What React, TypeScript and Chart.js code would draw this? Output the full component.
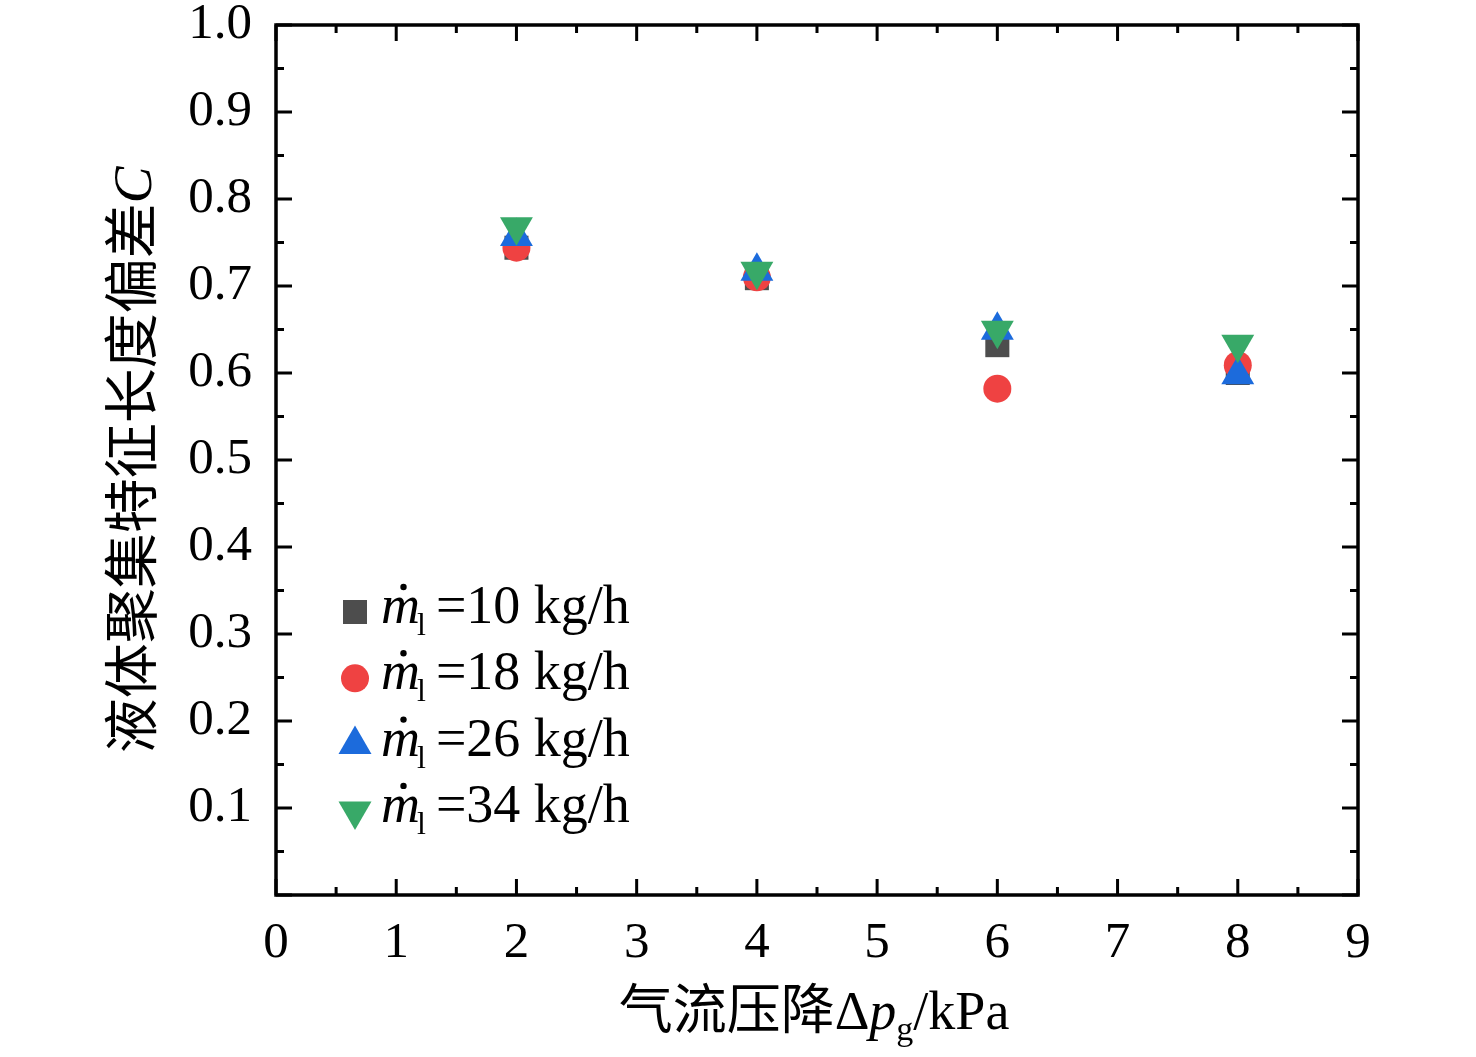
import { useEffect, useRef } from 'react'
import { Chart, registerables } from 'chart.js'
import type { Plugin } from 'chart.js'

Chart.register(...registerables)

// pressure drop Δp_g (kPa) and deviation C for each liquid flow rate
const pressureDrop = [2, 4, 6, 8]
const flow10 = [0.744, 0.709, 0.632, 0.6]
const flow18 = [0.744, 0.71, 0.582, 0.609]
const flow26 = [0.757, 0.717, 0.649, 0.598]
const flow34 = [0.768, 0.717, 0.649, 0.633]
const flowRates = ['10', '18', '26', '34']
const colors = ['#4d4d4d', '#ef4242', '#1c6bdc', '#38a968']

const SERIF = '"Liberation Serif", "Times New Roman", serif'
const CJK = '"Noto Sans CJK SC", sans-serif'

function drawSymbol(ctx: CanvasRenderingContext2D, kind: number, x: number, y: number) {
  ctx.fillStyle = colors[kind]
  ctx.beginPath()
  if (kind === 0) {
    ctx.rect(x - 12, y - 12, 24, 24)
  } else if (kind === 1) {
    ctx.arc(x, y, 14, 0, Math.PI * 2)
  } else if (kind === 2) {
    ctx.moveTo(x, y - 19)
    ctx.lineTo(x + 16.5, y + 9.5)
    ctx.lineTo(x - 16.5, y + 9.5)
  } else {
    ctx.moveTo(x, y + 19)
    ctx.lineTo(x + 16.5, y - 9.5)
    ctx.lineTo(x - 16.5, y - 9.5)
  }
  ctx.closePath()
  ctx.fill()
}

const framePlugin: Plugin = {
  id: 'frame',
  afterDraw(chart) {
    const { ctx, chartArea: a } = chart
    const xs = chart.scales.x
    const ys = chart.scales.y
    ctx.save()
    ctx.strokeStyle = '#000'
    ctx.lineWidth = 3.5
    ctx.strokeRect(a.left, a.top, a.right - a.left, a.bottom - a.top)
    ctx.lineWidth = 3
    ctx.beginPath()
    for (let i = 0; i <= 18; i++) {
      const px = xs.getPixelForValue(i / 2)
      const len = i % 2 === 0 ? 16 : 8
      ctx.moveTo(px, a.bottom)
      ctx.lineTo(px, a.bottom - len)
      ctx.moveTo(px, a.top)
      ctx.lineTo(px, a.top + len)
    }
    for (let i = 0; i <= 20; i++) {
      const py = ys.getPixelForValue(i / 20)
      const len = i % 2 === 0 ? 16 : 8
      ctx.moveTo(a.left, py)
      ctx.lineTo(a.left + len, py)
      ctx.moveTo(a.right, py)
      ctx.lineTo(a.right - len, py)
    }
    ctx.stroke()

    // x axis title: 气流压降Δp_g/kPa
    ctx.fillStyle = '#000'
    ctx.textBaseline = 'alphabetic'
    const parts: [string, string, number][] = [
      ['气流压降', `54px ${CJK}`, 0],
      ['Δ', `54px ${SERIF}`, 0],
      ['p', `italic 54px ${SERIF}`, 0],
      ['g', `34px ${SERIF}`, 11],
      ['/kPa', `54px ${SERIF}`, 0]
    ]
    let total = 0
    for (const [t, f] of parts) {
      ctx.font = f
      total += ctx.measureText(t).width
    }
    let cx = (a.left + a.right) / 2 - total / 2 - 3
    for (const [t, f, dy] of parts) {
      ctx.font = f
      ctx.fillText(t, cx, 1029 + dy)
      cx += ctx.measureText(t).width
    }

    // y axis title: 液体聚集特征长度偏差C
    ctx.save()
    ctx.translate(151, (a.top + a.bottom) / 2)
    ctx.rotate(-Math.PI / 2)
    const yParts: [string, string][] = [
      ['液体聚集特征长度偏差', `55px ${CJK}`],
      ['C', `italic 55px ${SERIF}`]
    ]
    let yt = 0
    for (const [t, f] of yParts) {
      ctx.font = f
      yt += ctx.measureText(t).width
    }
    let yx = -yt / 2
    for (const [t, f] of yParts) {
      ctx.font = f
      ctx.fillText(t, yx, 0)
      yx += ctx.measureText(t).width
    }
    ctx.restore()

    // legend
    flowRates.forEach((rate, i) => {
      const cy = 612 + i * 66.3
      drawSymbol(ctx, i, 355, cy)
      const base = cy + 11
      let tx = 381
      ctx.fillStyle = '#000'
      ctx.font = `italic 54px ${SERIF}`
      ctx.fillText('m', tx, base)
      const mw = ctx.measureText('m').width
      ctx.beginPath()
      ctx.arc(tx + mw / 2 + 3, base - 36, 3.2, 0, Math.PI * 2)
      ctx.fill()
      tx += mw - 3
      ctx.font = `32px ${SERIF}`
      ctx.fillText('l', tx, base + 12)
      tx += ctx.measureText('l').width + 10
      ctx.font = `54px ${SERIF}`
      ctx.fillText(`=${rate} kg/h`, tx, base)
    })
    ctx.restore()
  }
}

function makeSet(label: string, data: number[], idx: number) {
  const styles = ['rect', 'circle', 'triangle', 'triangle']
  const radius = [17, 14, 19, 19]
  return {
    label,
    data: pressureDrop.map((x, j) => ({ x, y: data[j] })),
    backgroundColor: colors[idx],
    borderColor: colors[idx],
    borderWidth: 0,
    pointStyle: styles[idx],
    pointRadius: radius[idx],
    pointRotation: idx === 3 ? 180 : 0,
    order: 3 - idx
  }
}

function noOverhang(scale: any) {
  scale.paddingTop = 0
  scale.paddingBottom = 0
  scale.paddingLeft = 0
  scale.paddingRight = 0
}

export default function App() {
  const canvasRef = useRef<HTMLCanvasElement>(null)

  useEffect(() => {
    const canvas = canvasRef.current
    if (!canvas) return
    document.body.style.margin = '0'
    const chart = new Chart(canvas, {
      type: 'scatter',
      data: {
        datasets: [
          makeSet('10 kg/h', flow10, 0),
          makeSet('18 kg/h', flow18, 1),
          makeSet('26 kg/h', flow26, 2),
          makeSet('34 kg/h', flow34, 3)
        ]
      },
      options: {
        responsive: false,
        animation: false,
        layout: { padding: { left: 0, top: 25, right: 118, bottom: 0 } },
        plugins: { legend: { display: false }, tooltip: { enabled: false } },
        scales: {
          x: {
            type: 'linear',
            min: 0,
            max: 9,
            grid: { display: false },
            border: { display: false },
            ticks: {
              stepSize: 1,
              color: '#000',
              padding: 10,
              font: { family: SERIF, size: 51 }
            },
            afterFit(scale) {
              scale.height = 162
              noOverhang(scale)
            }
          },
          y: {
            type: 'linear',
            min: 0,
            max: 1,
            grid: { display: false },
            border: { display: false },
            ticks: {
              stepSize: 0.1,
              color: '#000',
              padding: 16,
              font: { family: SERIF, size: 51 },
              callback: (v) => (Number(v) === 0 ? '' : Number(v).toFixed(1))
            },
            afterFit(scale) {
              scale.width = 276
              noOverhang(scale)
            }
          }
        }
      },
      plugins: [framePlugin]
    })
    return () => chart.destroy()
  }, [])

  return (
    <div style={{ width: 1476, height: 1057, background: '#fff' }}>
      <canvas ref={canvasRef} width={1476} height={1057} />
    </div>
  )
}
